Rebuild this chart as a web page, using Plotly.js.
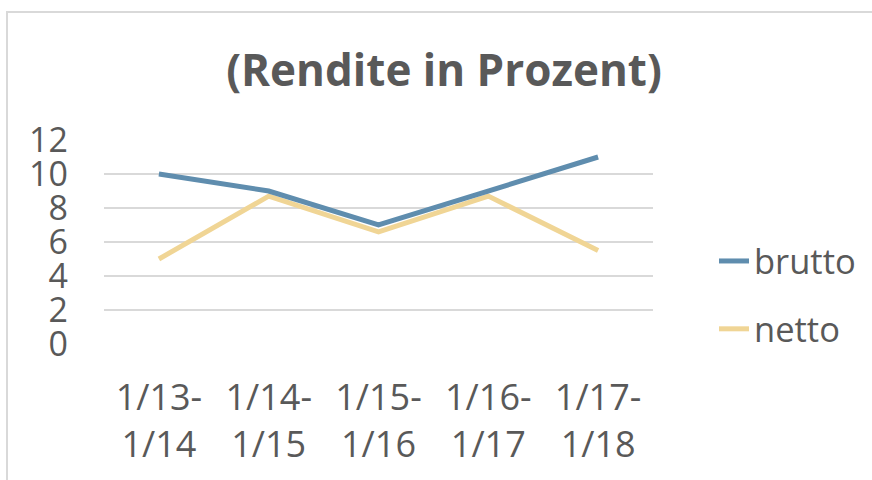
<!DOCTYPE html>
<html>
<head>
<meta charset="utf-8">
<script src="https://cdn.plot.ly/plotly-3.0.1.min.js"></script>
<style>
  html, body { margin: 0; padding: 0; background: #fff; }
  #frame { position: absolute; left: 6px; top: 11px; width: 900px; height: 500px;
           border-left: 2px solid #d9d9d9; border-top: 2px solid #d9d9d9; }
  #chart { position: absolute; left: 0; top: 0; width: 872px; height: 480px; }
</style>
</head>
<body>
<div id="frame"></div>
<div id="chart"></div>
<script>
const categories = ["1/13-<br>1/14", "1/14-<br>1/15", "1/15-<br>1/16", "1/16-<br>1/17", "1/17-<br>1/18"];
const brutto = [10, 9, 7, 9, 11];
const netto = [5, 8.7, 6.6, 8.7, 5.5];
const yTicks = [0, 2, 4, 6, 8, 10, 12];

const font = "'Open Sans', 'Segoe UI', sans-serif";
const grey = "#595959";

// netto drawn first so brutto lies on top
const traces = [
  { x: categories, y: netto, name: "netto", type: "scatter", mode: "lines",
    legendgroup: "b", legendrank: 2, line: { color: "#f0d595", width: 5 } },
  { x: categories, y: brutto, name: "brutto", type: "scatter", mode: "lines",
    legendgroup: "a", legendrank: 1, line: { color: "#5f8dae", width: 5 } }
];

const layout = {
  width: 872, height: 480,
  paper_bgcolor: "rgba(0,0,0,0)", plot_bgcolor: "rgba(0,0,0,0)",
  margin: { l: 104, r: 218, t: 140, b: 136 },
  title: { text: "<b>(Rendite in Prozent)</b>", xref: "container", yref: "container",
           x: 444 / 872, xanchor: "center", y: 1 - 71 / 480, yanchor: "middle",
           font: { family: font, size: 44, color: grey } },
  xaxis: { type: "category", range: [-0.5, 4.5], showgrid: false, zeroline: false,
           showline: false, ticks: "", ticklabelstandoff: 29,
           tickfont: { family: font, size: 36, color: grey } },
  yaxis: { range: [0, 12], tickvals: yTicks, showgrid: true, gridcolor: "#d9d9d9",
           gridwidth: 1.5, zeroline: false, showline: false, ticks: "",
           ticklabelstandoff: 35,
           tickfont: { family: font, size: 34, color: grey } },
  showlegend: true,
  legend: { x: (714 - 104) / 550, xanchor: "left", y: 0.24, yanchor: "middle",
            traceorder: "grouped", tracegroupgap: 20,
            font: { family: font, size: 34.5, color: grey },
            bgcolor: "rgba(0,0,0,0)" }
};

Plotly.newPlot("chart", traces, layout, { displayModeBar: false, staticPlot: true });
</script>
</body>
</html>
